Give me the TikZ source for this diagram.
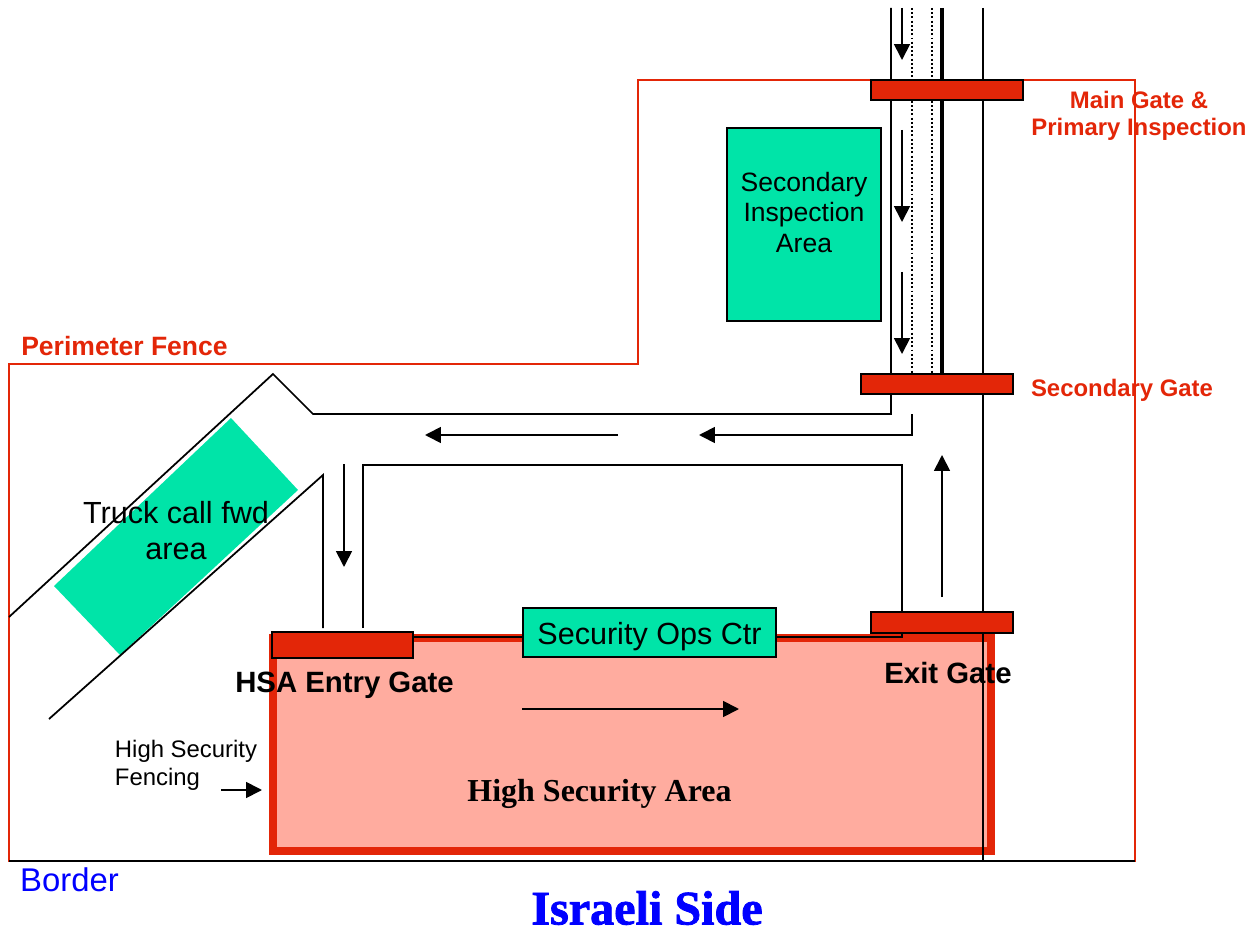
\documentclass[tikz,border=0pt]{standalone}
\usepackage{fontspec}
\setmainfont{Liberation Sans}
\newfontfamily\serifbold{Liberation Serif}[Scale=1]
\newfontfamily\serifheavy{Liberation Serif Bold}[FakeBold=1.6]
\usetikzlibrary{arrows.meta}
\definecolor{figR}{RGB}{227,38,8}
\definecolor{figG}{RGB}{0,228,168}
\definecolor{figP}{RGB}{255,172,159}
\definecolor{figB}{RGB}{0,0,255}
\tikzset{
  road/.style={black,line width=1pt},
  lane/.style={road,-{Triangle[length=9pt,width=9pt]}},
  gatebar/.style={draw=black,fill=figR,line width=1.1pt},
  zone/.style={draw=black,fill=figG,line width=1pt},
  redlab/.style={figR,font=\fontsize{13.6}{15.4}\selectfont\bfseries,align=center,inner sep=0pt},
  blacklab/.style={font=\fontsize{16.7}{19}\selectfont\bfseries,inner sep=0pt},
  arealab/.style={font=\fontsize{17.4}{20.4}\selectfont,align=center,inner sep=0pt}
}
\begin{document}
\begin{tikzpicture}[x=0.02cm,y=-0.02cm]
\useasboundingbox (0,0) rectangle (1254,932);
% perimeter and high security area
\draw[figR,line width=0.9pt] (638,80)--(1135,80)--(1135,861)--(9,861)--(9,364)--(638,364)--cycle;
\draw[figR,fill=figP,line width=4.5pt] (273,638) rectangle (991,851);
\draw[road] (9,861)--(1135,861);
% truck area
\fill[figG] (231,418)--(298,490)--(120,655)--(54,586)--cycle;
% roads
\draw[road] (891,8)--(891,414)--(313,414)--(273,374)--(9,617);
\draw[road] (983,8)--(983,861);
\draw[black,line width=2pt] (942,8)--(942,374);
\draw[black,line width=0.7pt,dash pattern=on 1.1pt off 1.3pt] (912,8)--(912,374);
\draw[black,line width=0.7pt,dash pattern=on 1.1pt off 1.3pt] (932,8)--(932,374);
\draw[road] (49,719)--(323,475)--(323,628);
\draw[road] (363,628)--(363,465)--(902,465)--(902,637)--(413,637);
% direction arrows
\draw[lane] (902,8)--(902,60);
\draw[lane] (902,130)--(902,222);
\draw[lane] (902,272)--(902,354);
\draw[lane] (912,414)--(912,435)--(699,435);
\draw[lane] (618,435)--(425,435);
\draw[lane] (344,464)--(344,567);
\draw[lane] (942,597)--(942,455);
\draw[lane] (522,709)--(739,709);
\draw[lane] (221,790)--(262,790);
% gates
\draw[gatebar] (871,80) rectangle (1023,100);
\draw[gatebar] (861,374) rectangle (1013,394);
\draw[gatebar] (871,612) rectangle (1013,633);
\draw[gatebar] (272,632) rectangle (413,658);
% buildings
\node[zone,minimum width=3.08cm,minimum height=3.86cm] (secInsp) at (804,224.5) {};
\node[arealab,font=\fontsize{15.1}{17.4}\selectfont] (secText) at (804,212.5) {Secondary\\Inspection\\Area};
\node[zone,minimum width=5.06cm,minimum height=0.98cm] (opsCtr) at (649.5,632.5) {};
\node[arealab] (opsText) at (649.5,636.5) {Security Ops Ctr};
\node[arealab] (truckArea) at (176,530.5) {Truck call fwd\\area};
% labels
\node[redlab] (mainGate) at (1139,116) {Main Gate \&\\Primary Inspection};
\node[redlab] (secGate) at (1122,390) {Secondary Gate};
\node[redlab,font=\fontsize{15.1}{17}\selectfont\bfseries] (fence) at (124.5,346) {Perimeter Fence};
\node[blacklab] (hsaGate) at (344.5,685) {HSA Entry Gate};
\node[blacklab] (exitGate) at (948,673) {Exit Gate};
\node[font=\fontsize{13.6}{15.9}\selectfont,align=left,inner sep=0pt] (fencing) at (186,765) {High Security\\Fencing};
\node[font=\serifbold\fontsize{18.2}{20}\selectfont\bfseries,inner sep=0pt] (hsaName) at (599.5,794) {High Security Area};
\node[figB,font=\fontsize{18.7}{21}\selectfont,inner sep=0pt] (border) at (69.5,880) {Border};
\node[figB,font=\serifheavy\fontsize{27.4}{30}\selectfont,inner sep=0pt] (israeli) at (647,908) {Israeli Side};
\end{tikzpicture}
\end{document}
